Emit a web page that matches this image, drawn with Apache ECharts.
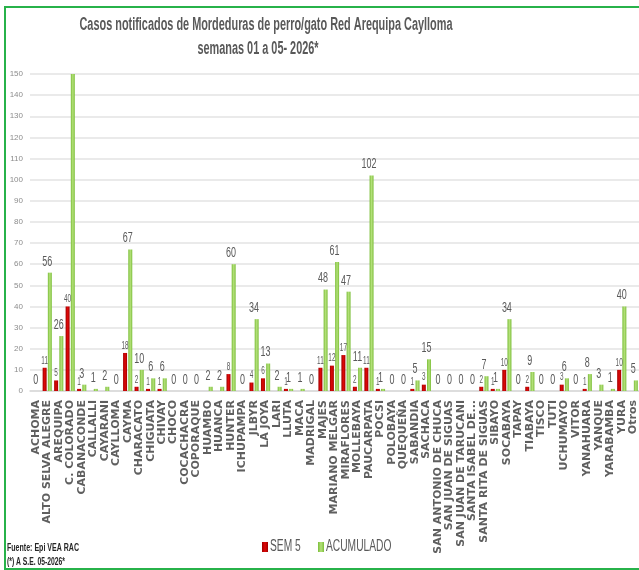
<!DOCTYPE html>
<html>
<head>
<meta charset="utf-8">
<script src="https://cdn.jsdelivr.net/npm/echarts@6/dist/echarts.min.js"></script>
<style>
html, body { margin: 0; padding: 0; background: #fff; }
#chart { width: 639px; height: 570px; }
</style>
</head>
<body>
<div id="chart"></div>
<script>
var distritos = ['ACHOMA', 'ALTO SELVA ALEGRE', 'AREQUIPA', 'C. COLORADO', 'CABANACONDE', 'CALLALLI',
  'CAYARANI', 'CAYLLOMA', 'CAYMA', 'CHARACATO', 'CHIGUATA', 'CHIVAY', 'CHOCO', 'COCACHACRA',
  'COPORAQUE', 'HUAMBO', 'HUANCA', 'HUNTER', 'ICHUPAMPA', 'JLBYR', 'LA JOYA', 'LARI', 'LLUTA',
  'MACA', 'MADRIGAL', 'MAJES', 'MARIANO MELGAR', 'MIRAFLORES', 'MOLLEBAYA', 'PAUCARPATA', 'POCSI',
  'POLOBAYA', 'QUEQUEÑA', 'SABANDIA', 'SACHACA', 'SAN ANTONIO DE CHUCA', 'SAN JUAN DE SIGUAS',
  'SAN JUAN DE TARUCANI', 'SANTA ISABEL DE...', 'SANTA RITA DE SIGUAS', 'SIBAYO', 'SOCABAYA',
  'TAPAY', 'TIABAYA', 'TISCO', 'TUTI', 'UCHUMAYO', 'VITOR', 'YANAHUARA', 'YANQUE', 'YARABAMBA',
  'YURA', 'Otros']

// null = sin dato en la semana 5
var sem5 = [null, 11, 5, 40, 1, null, null, null, 18, 2, 1, 1, null, null,
  null, null, null, 8, null, 4, 6, null, 1,
  null, null, 11, 12, 17, 2, 11, 1,
  null, null, 1, 3, null, null,
  null, null, 2, 1, 10,
  null, 2, null, null, 3, null, 1, null, null,
  10, null]

var acumulado = [0, 56, 26, 150, 3, 1, 2, 0, 67, 10, 6, 6, 0, 0,
  0, 2, 2, 60, 0, 34, 13, 2, 1,
  1, 0, 48, 61, 47, 11, 102, 1,
  0, 0, 5, 15, 0, 0,
  0, 0, 7, 1, 34,
  0, 9, 0, 0, 6, 0, 8, 3, 1,
  40, 5]

var yTicks = { min: 0, max: 150, interval: 10 }

var sans = '"Liberation Sans", Arial, sans-serif'
var squeeze = 0.64 // el grafico original esta comprimido en horizontal

// ancho de texto para ajustar el titulo al original
var ctx = document.createElement('canvas').getContext('2d')
function fitScale (text, font, target) {
  ctx.font = font
  return target / ctx.measureText(text).width
}

var titulo1 = 'Casos notificados de Mordeduras de perro/gato Red Arequipa Caylloma'
var titulo2 = 'semanas 01 a 05- 2026*'
var titleFont = 'bold 18px ' + sans
var titleScale = fitScale(titulo1, titleFont, 373)

var chart = echarts.init(document.getElementById('chart'))

var redFill = new echarts.graphic.LinearGradient(0, 0, 1, 0, [
  { offset: 0, color: '#a00000' },
  { offset: 0.5, color: '#e00808' },
  { offset: 1, color: '#a00000' }
])
var greenFill = new echarts.graphic.LinearGradient(0, 0, 1, 0, [
  { offset: 0, color: '#7cbf3a' },
  { offset: 0.5, color: '#b4e07a' },
  { offset: 1, color: '#7cbf3a' }
])

var barW = 4
var gapW = 1.2

function labelSeries (values, dx, fontSize, gap) {
  var data = []
  values.forEach(function (v, i) {
    if (v === null || v >= yTicks.max) return
    data.push([i, v])
  })
  return {
    type: 'custom',
    silent: true,
    z: 5,
    data: data,
    encode: { x: 0, y: 1 },
    renderItem: function (params, api) {
      var p = api.coord([api.value(0), api.value(1)])
      return {
        type: 'text',
        x: p[0] + dx,
        y: p[1] - gap,
        scaleX: squeeze,
        style: {
          text: String(api.value(1)),
          font: fontSize + 'px ' + sans,
          fill: '#595959',
          align: 'center',
          verticalAlign: 'bottom'
        }
      }
    }
  }
}

var option = {
  backgroundColor: '#fff',
  animation: false,
  legend: { show: false, data: ['SEM 5', 'ACUMULADO'] },
  grid: {
    left: 30,
    right: 0,
    top: 74,
    bottom: 179
  },
  xAxis: {
    type: 'category',
    data: distritos,
    axisLine: { lineStyle: { color: '#d9d9d9', width: 1.5 } },
    axisTick: { show: false },
    axisLabel: {
      rotate: 90,
      interval: 0,
      margin: 9,
      fontFamily: '"DejaVu Sans", Verdana, sans-serif',
      fontWeight: 'bold',
      fontSize: 11,
      color: '#5f5f5f'
    }
  },
  yAxis: {
    type: 'value',
    min: yTicks.min,
    max: yTicks.max,
    interval: yTicks.interval,
    axisLine: { show: false },
    axisTick: { show: false },
    axisLabel: {
      margin: 7,
      fontFamily: sans,
      fontSize: 8,
      color: '#8c8c8c'
    },
    splitLine: { lineStyle: { color: '#e3e3e3', width: 1.5 } }
  },
  series: [
    {
      name: 'SEM 5',
      type: 'bar',
      data: sem5,
      barWidth: barW,
      barGap: (gapW / barW * 100) + '%',
      itemStyle: { color: redFill }
    },
    {
      name: 'ACUMULADO',
      type: 'bar',
      data: acumulado,
      barWidth: barW,
      itemStyle: { color: greenFill }
    },
    labelSeries(sem5, -(barW + gapW) / 2, 10, 2),
    labelSeries(acumulado, 0, 14, 4)
  ],
  graphic: [
    {
      type: 'rect',
      shape: { x: 5, y: 7, width: 700, height: 562 },
      style: { fill: 'none', stroke: '#27b24a', lineWidth: 2 },
      silent: true
    },
    {
      type: 'text',
      x: 266,
      y: 16,
      scaleX: titleScale,
      style: { text: titulo1, font: titleFont, fill: '#595959', align: 'center' }
    },
    {
      type: 'text',
      x: 258,
      y: 40,
      scaleX: titleScale,
      style: { text: titulo2, font: titleFont, fill: '#595959', align: 'center' }
    },
    // leyenda
    {
      type: 'rect',
      shape: { x: 262, y: 542, width: 6, height: 10 },
      style: { fill: redFill }
    },
    {
      type: 'text',
      x: 270,
      y: 539,
      scaleX: squeeze,
      style: { text: 'SEM 5', font: '16px ' + sans, fill: '#595959' }
    },
    {
      type: 'rect',
      shape: { x: 318, y: 542, width: 6, height: 10 },
      style: { fill: greenFill }
    },
    {
      type: 'text',
      x: 326,
      y: 539,
      scaleX: squeeze,
      style: { text: 'ACUMULADO', font: '16px ' + sans, fill: '#595959' }
    },
    {
      type: 'text',
      x: 7,
      y: 542,
      scaleX: fitScale('Fuente: Epi VEA RAC', 'bold 11px ' + sans, 72),
      style: { text: 'Fuente: Epi VEA RAC', font: 'bold 11px ' + sans, fill: '#262626' }
    },
    {
      type: 'text',
      x: 7,
      y: 557,
      scaleX: fitScale('(*) A S.E. 05-2026*', 'bold 10px ' + sans, 58),
      style: { text: '(*) A S.E. 05-2026*', font: 'bold 10px ' + sans, fill: '#262626' }
    }
  ]
}

chart.setOption(option)
</script>
</body>
</html>
